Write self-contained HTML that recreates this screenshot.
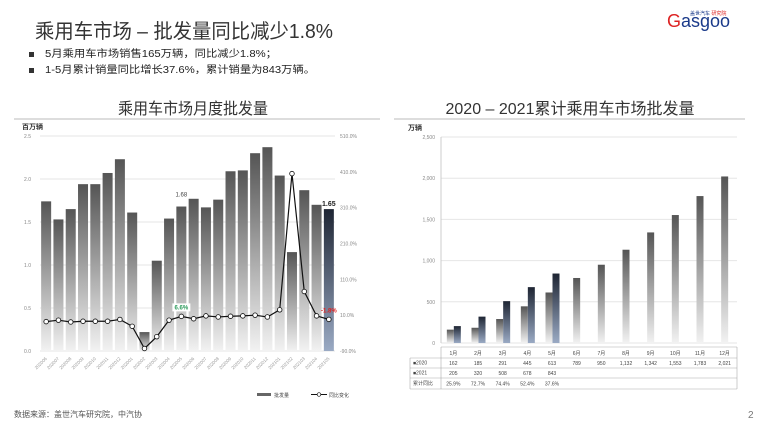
<!DOCTYPE html>
<html><head><meta charset="utf-8"><style>
body{margin:0;width:760px;height:428px;background:#fff;overflow:hidden;font-family:"Liberation Sans","Noto Sans CJK SC",sans-serif;}
svg text{font-family:"Liberation Sans","Noto Sans CJK SC",sans-serif;}
</style></head><body>
<svg id="s" width="760" height="428" xmlns="http://www.w3.org/2000/svg">
<defs>
<linearGradient id="g" x1="0" y1="0" x2="0" y2="1"><stop offset="0" stop-color="#555"/><stop offset="1" stop-color="#f2f2f2"/></linearGradient>
<linearGradient id="gb" x1="0" y1="0" x2="0" y2="1"><stop offset="0" stop-color="#1e2533"/><stop offset="1" stop-color="#9aaac4"/></linearGradient>
</defs>
<text x="35" y="38" font-size="20" fill="#333" textLength="298" lengthAdjust="spacingAndGlyphs">乘用车市场 – 批发量同比减少1.8%</text>
<rect x="29" y="52" width="5" height="5" fill="#333"/>
<text x="45" y="57" font-size="10" fill="#222" textLength="232" lengthAdjust="spacingAndGlyphs">5月乘用车市场销售165万辆，同比减少1.8%；</text>
<rect x="29" y="68" width="5" height="5" fill="#333"/>
<text x="45" y="73" font-size="10" fill="#222" textLength="270" lengthAdjust="spacingAndGlyphs">1-5月累计销量同比增长37.6%，累计销量为843万辆。</text>
<text x="667" y="27" font-size="18" fill="#1a3a8a"><tspan fill="#d22">G</tspan>asgoo</text>
<text x="690" y="15" font-size="5" fill="#1a3a8a">盖世汽车 <tspan fill="#d22">研究院</tspan></text>
<text x="193" y="114" font-size="16" fill="#333" text-anchor="middle" textLength="150" lengthAdjust="spacingAndGlyphs">乘用车市场月度批发量</text>
<line x1="14" y1="119" x2="380" y2="119" stroke="#bbb"/>
<text x="570" y="114" font-size="16" fill="#333" text-anchor="middle">2020 – 2021累计乘用车市场批发量</text>
<line x1="394" y1="119" x2="745" y2="119" stroke="#bbb"/>
<g id="L"></g><g id="R"></g>
<text x="14" y="417" font-size="8" fill="#555">数据来源：盖世汽车研究院，中汽协</text>
<text x="748" y="418" font-size="10" fill="#777">2</text>
</svg>
<script>
const months=["202006","202007","202008","202009","202010","202011","202012","202001","202002","202003","202004","202005","202006","202007","202008","202009","202010","202011","202012","202101","202102","202103","202104","202105"];
const sales=[1.74,1.53,1.65,1.94,1.94,2.07,2.23,1.61,0.22,1.05,1.54,1.68,1.77,1.67,1.76,2.09,2.10,2.30,2.37,2.04,1.15,1.87,1.70,1.65];
const yoy=[-8,-4,-9,-7,-7,-7,-2,-21,-83,-50,-4,6.6,0,8,5,7,8,10,5,25,405,76,8,-1.8];
const leftTicks=[0,0.5,1.0,1.5,2.0,2.5];
const rightTicks=[-90,10,110,210,310,410,510];
const cumCats=["1月","2月","3月","4月","5月","6月","7月","8月","9月","10月","11月","12月"];
const cum2020=[162,185,291,445,613,789,950,1132,1342,1553,1783,2021];
const cum2021=[205,320,508,678,843];
const cumYoy=["25.9%","72.7%","74.4%","52.4%","37.6%"];
const cumTicks=[0,500,1000,1500,2000,2500];
const NS="http://www.w3.org/2000/svg";
function mk(p,t,a,txt){const e=document.createElementNS(NS,t);for(const k in a)e.setAttribute(k,a[k]);if(txt!=null)e.textContent=txt;p.appendChild(e);return e;}
// left chart
const L=document.getElementById('L');
const x0=40,x1=335,yT=136,yB=351;
const step=(x1-x0)/sales.length;
const xc=i=>x0+step*(i+0.5);
const yL=v=>yB-(v/2.5)*(yB-yT);
const yR=v=>yB-((v+90)/600)*(yB-yT);
let e=mk(L,'text',{x:22,y:129,'font-size':7,'font-weight':'bold',fill:'#333'},'百万辆');

leftTicks.forEach(v=>{let g=mk(L,'line',{x1:x0,x2:x1,y1:yL(v),y2:yL(v),stroke:'#e4e4e4'});
 let t=mk(L,'text',{x:31,y:yL(v)+2,'font-size':5,fill:'#888','text-anchor':'end'},v.toFixed(1));});
rightTicks.forEach(v=>{let t=mk(L,'text',{x:340,y:yR(v)+2,'font-size':5,fill:'#888'},v.toFixed(1)+'%');});
sales.forEach((v,i)=>{const last=i===sales.length-1;let r=mk(L,'rect',{x:xc(i)-5,y:yL(v),width:10,height:yB-yL(v),fill:last?'url(#gb)':'url(#g)'});
 
 let t=mk(L,'text',{x:xc(i)+1,y:yB+8,'font-size':4.5,fill:'#999','text-anchor':'end',transform:`rotate(-45 ${xc(i)+1} ${yB+8})`},months[i]);});
let pts=yoy.map((v,i)=>xc(i)+','+yR(v)).join(' ');
e=mk(L,'polyline',{points:pts,fill:'none',stroke:'#111','stroke-width':1.2});
yoy.forEach((v,i)=>{let c=mk(L,'circle',{cx:xc(i),cy:yR(v),r:2.3,fill:'#fff',stroke:'#111','stroke-width':0.8});});
e=mk(L,'text',{x:xc(11),y:yL(sales[11])-10,'font-size':6,fill:'#444','text-anchor':'middle'},sales[11].toFixed(2));
e=mk(L,'text',{x:xc(23),y:yL(sales[23])-3,'font-size':7,fill:'#222','text-anchor':'middle','font-weight':'bold'},sales[23].toFixed(2));
e=mk(L,'rect',{x:xc(11)-9,y:yR(6.6)-13,width:18,height:8,fill:'#fff'});
e=mk(L,'text',{x:xc(11),y:yR(6.6)-7,'font-size':6,fill:'#2a9a5a','text-anchor':'middle','font-weight':'bold'},yoy[11]+'%');
e=mk(L,'text',{x:xc(23),y:yR(-1.8)-7,'font-size':6,fill:'#e02020','text-anchor':'middle','font-weight':'bold'},yoy[23]+'%');
e=mk(L,'rect',{x:257,y:393,width:14,height:3,fill:'#666'});
e=mk(L,'text',{x:274,y:397,'font-size':5,fill:'#444'},'批发量');
e=mk(L,'line',{x1:311,x2:327,y1:394.5,y2:394.5,stroke:'#111'});
mk(L,'circle',{cx:319,cy:394.5,r:1.8,fill:'#fff',stroke:'#111','stroke-width':0.7});
e=mk(L,'text',{x:329,y:397,'font-size':5,fill:'#444'},'同比变化');
// right chart
const R=document.getElementById('R');
const rx0=441,rx1=737,ryT=137,ryB=343;
const cw=(rx1-rx0)/12;
const rc=i=>rx0+cw*(i+0.5);
const ry=v=>ryB-(v/2500)*(ryB-ryT);
e=mk(R,'text',{x:408,y:130,'font-size':7,'font-weight':'bold',fill:'#333'},'万辆');
cumTicks.forEach(v=>{let g=mk(R,'line',{x1:rx0,x2:rx1,y1:ry(v),y2:ry(v),stroke:'#e6e6e6'});
 let t=mk(R,'text',{x:435,y:ry(v)+2,'font-size':5,fill:'#888','text-anchor':'end'},v.toLocaleString('en-US'));});
mk(R,'line',{x1:rx0,x2:rx0,y1:ryT,y2:ryB,stroke:'#ccc'});
cum2020.forEach((v,i)=>{const has=i<cum2021.length;const bx=has?rc(i)-6.5:rc(i)-3.5;
 let r=mk(R,'rect',{x:bx,y:ry(v),width:7,height:ryB-ry(v),fill:'url(#g)'});});
cum2021.forEach((v,i)=>{let r=mk(R,'rect',{x:rc(i)+0.5,y:ry(v),width:7,height:ryB-ry(v),fill:'url(#gb)'});});
// table
const tx=410,rows=[347,358,368,378,389];
rows.forEach((y,k)=>{let l=mk(R,'line',{x1:k==0?rx0:tx,x2:rx1,y1:y,y2:y,stroke:'#aaa','stroke-width':0.6});});
mk(R,'line',{x1:tx,x2:tx,y1:358,y2:389,stroke:'#aaa','stroke-width':0.6});
mk(R,'line',{x1:rx0,x2:rx0,y1:347,y2:389,stroke:'#aaa','stroke-width':0.6});
mk(R,'line',{x1:rx1,x2:rx1,y1:347,y2:389,stroke:'#aaa','stroke-width':0.6});
const lab=[['■2020',365.5],['■2021',375.5],['累计同比',386]];
lab.forEach(([t,y])=>{let q=mk(R,'text',{x:413,y:y-1,'font-size':5,fill:'#444'},t);});
cumCats.forEach((c,i)=>{let q=mk(R,'text',{x:rc(i),y:355,'font-size':5,fill:'#444','text-anchor':'middle'},c);
 q=mk(R,'text',{x:rc(i),y:365,'font-size':5,fill:'#444','text-anchor':'middle'},cum2020[i].toLocaleString('en-US'));});
cum2021.forEach((v,i)=>{let q=mk(R,'text',{x:rc(i),y:375,'font-size':5,fill:'#444','text-anchor':'middle'},v);
 q=mk(R,'text',{x:rc(i),y:385.5,'font-size':5,fill:'#444','text-anchor':'middle'},cumYoy[i]);});
</script>
</body></html>
